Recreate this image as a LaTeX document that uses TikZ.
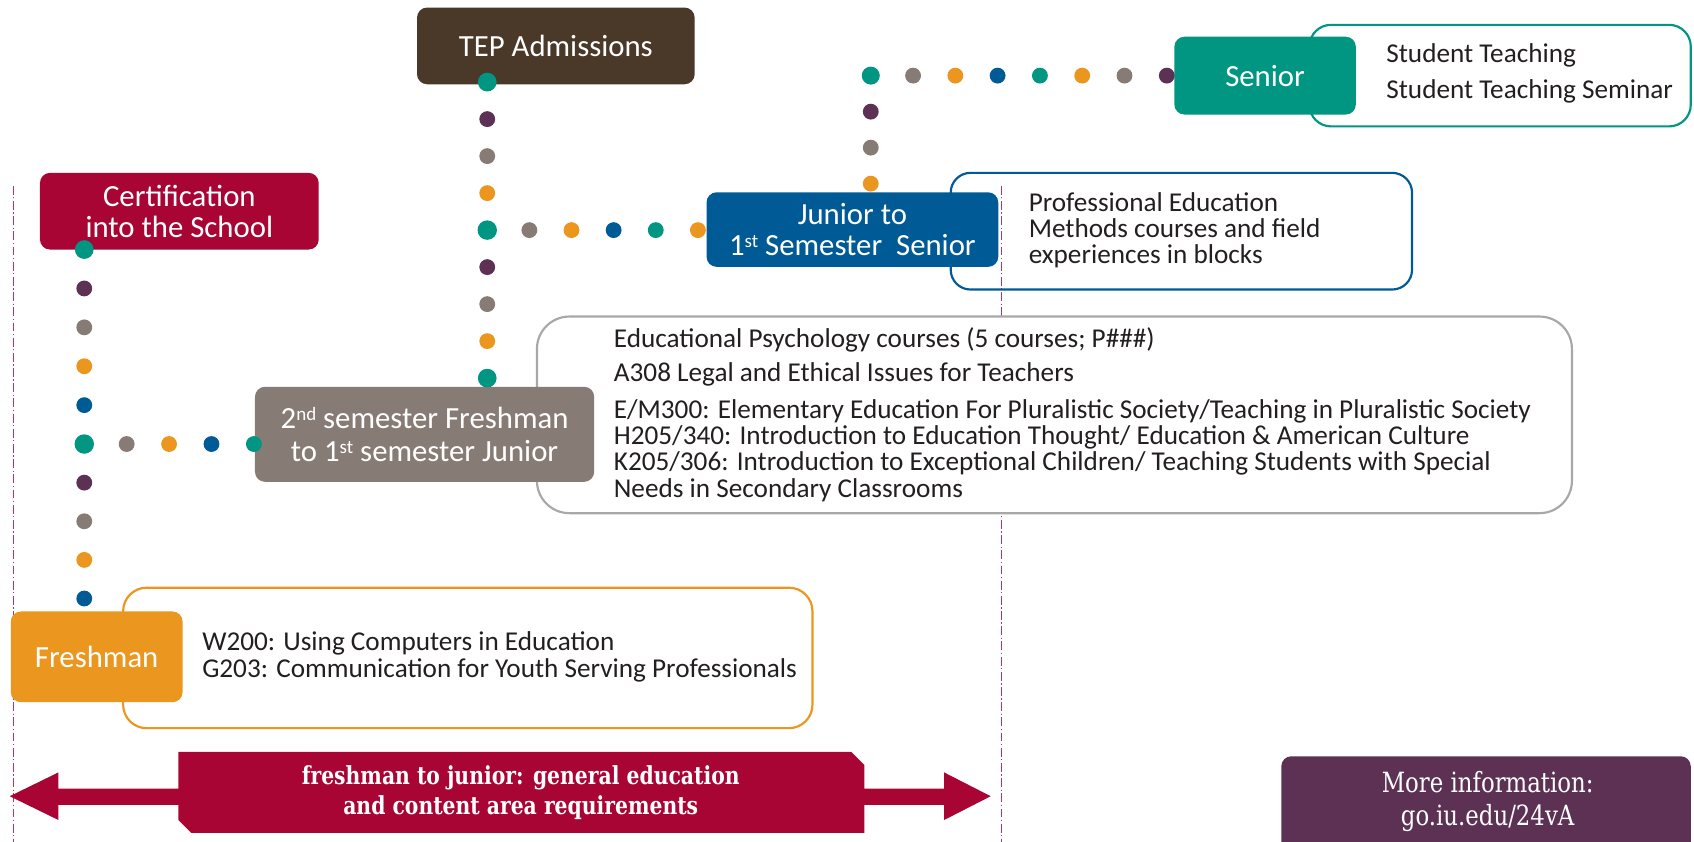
\documentclass[tikz,border=0pt]{standalone}
\usepackage{fontspec}
\setmainfont{Carlito}
\newfontfamily\slabfont[FakeStretch=0.82]{DejaVu Serif}
\usetikzlibrary{calc}

\definecolor{iuteal}{HTML}{009682}
\definecolor{iupurple}{HTML}{5C3154}
\definecolor{iugray}{HTML}{877C75}
\definecolor{iuorange}{HTML}{EA961F}
\definecolor{iublue}{HTML}{005A95}
\definecolor{iucrimson}{HTML}{A80534}
\definecolor{iubrown}{HTML}{4A3829}
\definecolor{ink}{HTML}{231F20}
\definecolor{boxgray}{HTML}{A8A8A8}

\newcommand{\ordsup}[1]{\raisebox{0.55ex}{\fontsize{15}{15}\selectfont #1}}

\tikzset{
  wh/.style 2 args={minimum width=#1*0.3mm, minimum height=#2*0.3mm},
  stage/.style={rounded corners=2.8mm, text=white, align=center, inner sep=0pt,
    font=\fontsize{24.3}{24.8}\selectfont},
  listbox/.style={line width=0.6mm, inner sep=0pt},
  course/.style={anchor=west, align=left, inner sep=0pt, text=ink,
    font=\fontsize{21.5}{20.8}\selectfont},
  guide/.style={iucrimson!80, line width=0.5pt, dash pattern=on 7pt off 2pt on 1pt off 2pt},
}

\begin{document}
\begin{tikzpicture}[x=0.3mm, y=-0.3mm]
  \useasboundingbox (0,0) rectangle (1568,779);

  % guide lines
  \draw[guide] (12,172) -- (12,779);
  \draw[guide] (927,172) -- (927,779);

  % course lists
  \node[listbox, draw=iuteal, fill=white, rounded corners=6mm, wh={353}{94}] (seniorlist) at (1388.5,70) {};
  \node[listbox, draw=iublue, rounded corners=5.5mm, wh={427}{108}] (juniorlist) at (1093.5,214) {};
  \node[listbox, draw=boxgray, fill=white, rounded corners=9mm, wh={958}{182}] (earlylist) at (976,384) {};
  \node[listbox, draw=iuorange, fill=white, rounded corners=6.5mm, wh={638}{130}] (freshlist) at (433,609) {};

  \node[course, font=\fontsize{21.5}{29}\selectfont] (seniortext) at (1283,68) {Student Teaching\\Student Teaching Seminar};
  \node[course] (juniortext) at (952,213) {Professional Education\\Methods courses and field\\experiences in blocks};
  \node[course] (psych) at (568,315) {Educational Psychology courses (5 courses; P\#\#\#)};
  \node[course] (legal) at (568,347) {A308 Legal and Ethical Issues for Teachers};
  \node[course] (core) at (568,417) {E/M300: Elementary Education For Pluralistic Society/Teaching in Pluralistic Society\\H205/340: Introduction to Education Thought/ Education \& American Culture\\K205/306: Introduction to Exceptional Children/ Teaching Students with Special\\Needs in Secondary Classrooms};
  \node[course] (freshtext) at (187,608) {W200: Using Computers in Education\\G203: Communication for Youth Serving Professionals};

  % stages
  \node[stage, fill=iubrown, wh={257}{71}] (tep) at (514.5,42.5) {TEP Admissions};
  \node[stage, fill=iucrimson, wh={258}{71}] (cert) at (166,195.5) {Certification\\into the School};
  \node[stage, fill=iugray, wh={314}{88}, font=\fontsize{24.3}{26}\selectfont] (early) at (393,402)
    {2\ordsup{nd} semester Freshman\\to 1\ordsup{st} semester Junior};
  \node[stage, fill=iublue, wh={270}{69}] (junior) at (789,212.5) {Junior to\\1\ordsup{st} Semester\ \ Senior};
  \node[stage, fill=iuteal, wh={168}{72}] (senior) at (1171,70) {Senior};
  \node[stage, fill=iuorange, wh={159}{84}] (fresh) at (89.5,608) {Freshman};

  % dotted paths
  \coordinate (a0) at (78,231);  \coordinate (a1) at (78,411);
  \coordinate (a2) at (78,554);  \coordinate (a3) at (235,411);
  \coordinate (b0) at (451,76);  \coordinate (b1) at (451,213);
  \coordinate (b2) at (451,350); \coordinate (b3) at (646,213);
  \coordinate (c0) at (806,170); \coordinate (c1) at (806,70);
  \coordinate (c2) at (1080,70);

  \foreach \c [count=\i from 1] in {iupurple,iugray,iuorange,iublue}
    \fill[\c] ($(a0)!\i/5!(a1)$) circle (2.2mm);
  \foreach \c [count=\i from 1] in {iupurple,iugray,iuorange,iublue}
    \fill[\c] ($(a1)!\i/4!(a2)$) circle (2.2mm);
  \foreach \c [count=\i from 1] in {iugray,iuorange,iublue,iuteal}
    \fill[\c] ($(a1)!\i/4!(a3)$) circle (2.2mm);
  \fill[iuteal] (a0) circle (2.6mm);
  \fill[iuteal] (a1) circle (2.7mm);

  \foreach \c [count=\i from 1] in {iupurple,iugray,iuorange}
    \fill[\c] ($(b0)!\i/4!(b1)$) circle (2.2mm);
  \foreach \c [count=\i from 1] in {iupurple,iugray,iuorange}
    \fill[\c] ($(b1)!\i/4!(b2)$) circle (2.2mm);
  \foreach \c [count=\i from 1] in {iugray,iuorange,iublue,iuteal,iuorange}
    \fill[\c] ($(b1)!\i/5!(b3)$) circle (2.2mm);
  \fill[iuteal] (b0) circle (2.6mm);
  \fill[iuteal] (b1) circle (2.7mm);
  \fill[iuteal] (b2) circle (2.6mm);

  \foreach \c [count=\i from 0] in {iuorange,iugray,iupurple}
    \fill[\c] ($(c0)!\i/3!(c1)$) circle (2.2mm);
  \foreach \c [count=\i from 1] in {iugray,iuorange,iublue,iuteal,iuorange,iugray,iupurple}
    \fill[\c] ($(c1)!\i/7!(c2)$) circle (2.2mm);
  \fill[iuteal] (c1) circle (2.5mm);

  % span arrow
  \fill[iucrimson] (9,737) -- (54,715) -- (54,730) -- (165,730) -- (165,696) -- (788,696)
    -- (800,708) -- (800,730) -- (874,730) -- (874,715) -- (917,737) -- (874,759)
    -- (874,745) -- (800,745) -- (800,771) -- (177,771) -- (165,759) -- (165,745)
    -- (54,745) -- (54,759) -- cycle;
  \node[text=white, align=center, font=\slabfont\bfseries\fontsize{19.6}{23.9}\selectfont] (span) at (482,734)
    {freshman to junior: general education\\and content area requirements};

  % more information
  \fill[iupurple, rounded corners=2.8mm] (1186,790) -- (1186,700) -- (1565,700) -- (1565,790) -- cycle;
  \node[text=white, align=center, font=\slabfont\fontsize{22}{25.6}\selectfont] (info) at (1377,742)
    {More information:\\go.iu.edu/24vA};
\end{tikzpicture}
\end{document}
